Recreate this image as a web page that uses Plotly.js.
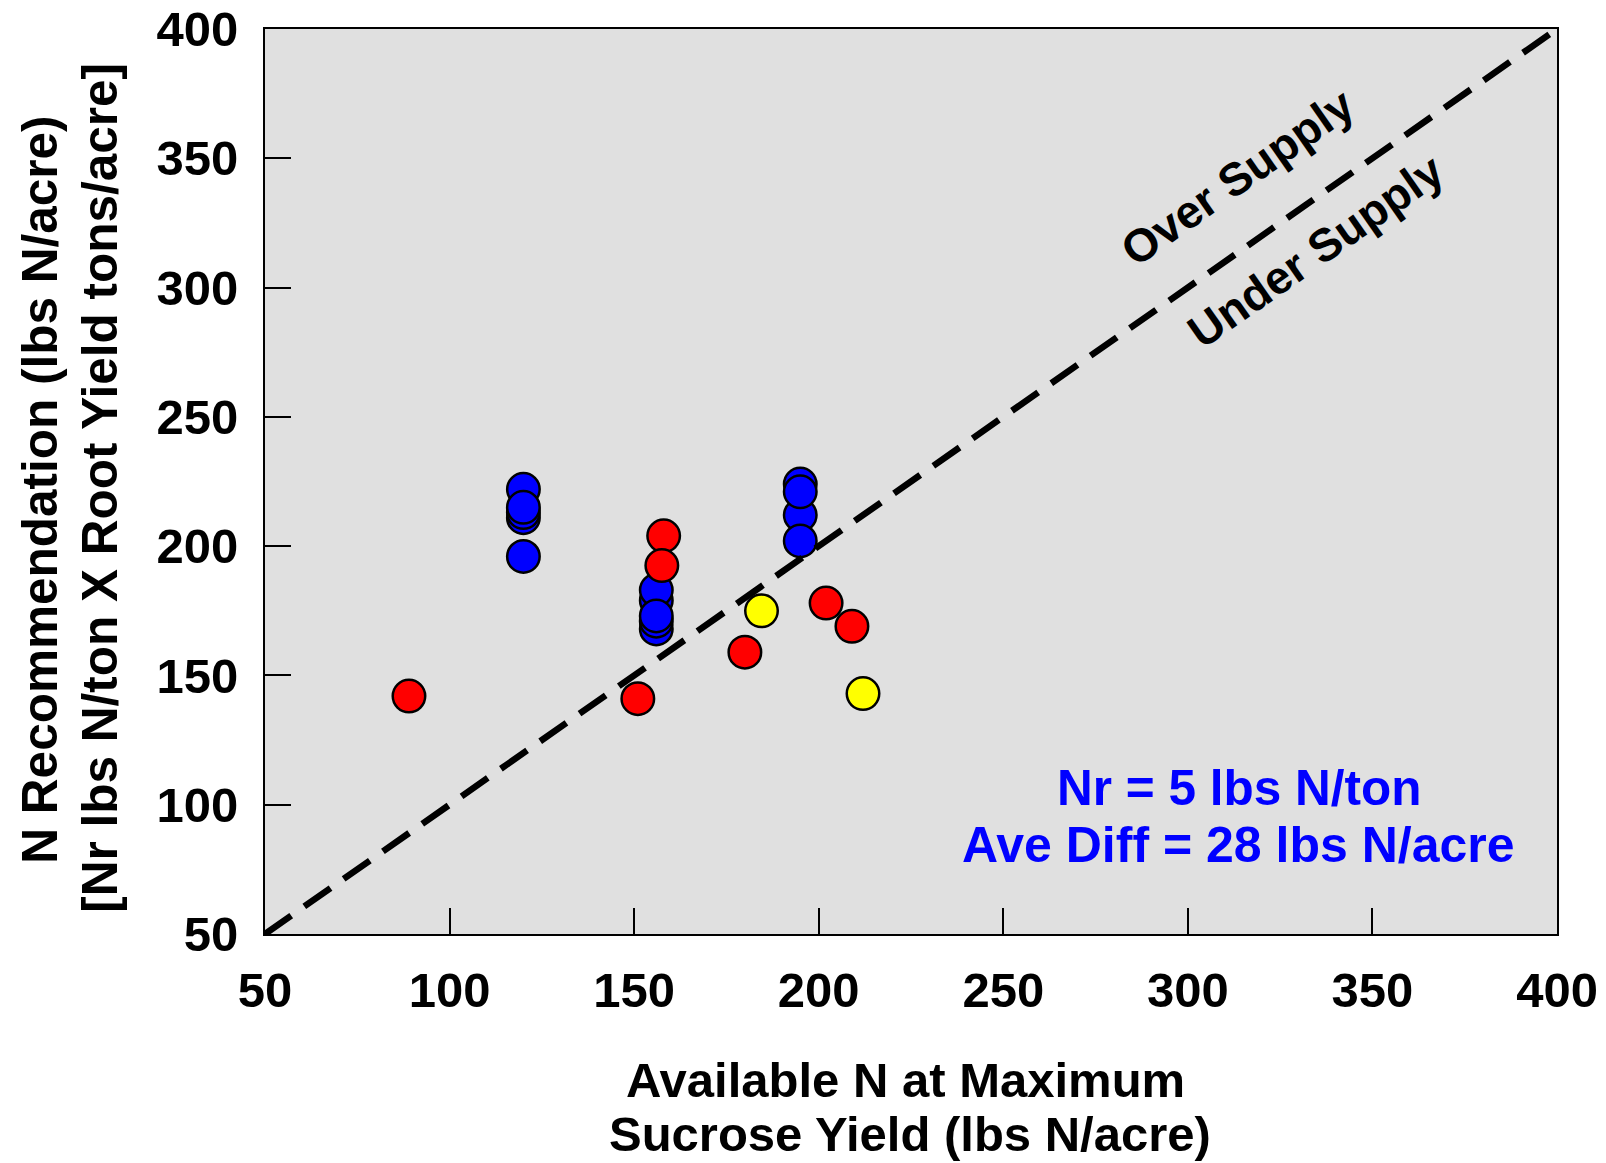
<!DOCTYPE html>
<html>
<head>
<meta charset="utf-8">
<script src="https://cdn.plot.ly/plotly-3.0.1.min.js"></script>
<style>html,body{margin:0;padding:0;background:#fff;}#chart{width:1606px;height:1163px;}</style>
</head>
<body>
<div id="chart"></div>
<script>
// Data
const redX = [89, 151, 158, 157.5, 180, 202, 209];
const redY = [142, 141, 204, 192.5, 159, 178, 169];
const yellowX = [184.5, 212];
const yellowY = [175, 143];
const blueX = [120, 120, 120, 120, 120, 156, 156, 156, 156, 156, 195, 195, 195, 195];
const blueY = [222, 211, 213, 215, 196, 168, 171, 179, 183, 173, 224, 212, 221, 202];
const lineX = [50, 400];
const lineY = [50, 400];
const tickVals = [50, 100, 150, 200, 250, 300, 350, 400];

const FONT = 'Liberation Sans, Arial, Helvetica, sans-serif';
const mk = (c) => ({size: 32.5, color: c, line: {color: '#000', width: 2.5}});

const traces = [
  {x: blueX, y: blueY, type: 'scatter', mode: 'markers', marker: mk('#0000ff'), hoverinfo: 'x+y'},
  {x: redX, y: redY, type: 'scatter', mode: 'markers', marker: mk('#ff0000'), hoverinfo: 'x+y'},
  {x: yellowX, y: yellowY, type: 'scatter', mode: 'markers', marker: mk('#ffff00'), hoverinfo: 'x+y'},
  {x: lineX, y: lineY, type: 'scatter', mode: 'lines', line: {color: '#000', width: 6.5, dash: '32px,16px'}, hoverinfo: 'skip'}
];

const axisBase = {
  range: [50, 400], tickvals: tickVals, ticktext: tickVals.map(String),
  ticks: 'inside', ticklen: 26, tickwidth: 2, tickcolor: '#000',
  showline: true, linecolor: '#000', linewidth: 2, mirror: true,
  showgrid: false, zeroline: false,
  tickfont: {family: FONT, size: 49, color: '#000', weight: 700}
};

const ann = (text, x, y, opts) => Object.assign({
  text: text, x: x, y: y, xref: 'x', yref: 'y', showarrow: false,
  font: {family: FONT, size: 48, color: '#000', weight: 700}
}, opts || {});

const layout = {
  width: 1606, height: 1163,
  margin: {l: 265, r: 49, t: 29, b: 229},
  paper_bgcolor: '#ffffff', plot_bgcolor: '#e0e0e0',
  showlegend: false,
  xaxis: Object.assign({}, axisBase, {ticklabelstandoff: 12}),
  yaxis: Object.assign({}, axisBase, {ticklabelstandoff: 15}),
  annotations: [
    ann('Over Supply', 313.5, 342.7, {textangle: -35, font: {family: FONT, size: 46, color: '#000', weight: 700}}),
    ann('Under Supply', 334.6, 314.2, {textangle: -35, font: {family: FONT, size: 46, color: '#000', weight: 700}}),
    ann('Nr = 5 lbs N/ton', 313.8, 106.8, {font: {family: FONT, size: 49.5, color: '#0000ff', weight: 700}}),
    ann('Ave Diff = 28 lbs N/acre', 313.8, 84.4, {font: {family: FONT, size: 50, color: '#0000ff', weight: 700}}),
    // x-axis title (two lines)
    {text: 'Available N at Maximum', xref: 'paper', yref: 'paper', x: 0.4961, y: 0, yshift: -146, yanchor: 'middle', xanchor: 'center', showarrow: false,
     font: {family: FONT, size: 49, color: '#000', weight: 700}},
    {text: 'Sucrose Yield (lbs N/acre)', xref: 'paper', yref: 'paper', x: 0.4996, y: 0, yshift: -200, yanchor: 'middle', xanchor: 'center', showarrow: false,
     font: {family: FONT, size: 49, color: '#000', weight: 700}},
    // y-axis title (two lines)
    {text: 'N Recommendation (lbs N/acre)', xref: 'paper', yref: 'paper', x: 0, y: 0.491, xshift: -225, xanchor: 'center', yanchor: 'middle', textangle: -90, showarrow: false,
     font: {family: FONT, size: 49.5, color: '#000', weight: 700}},
    {text: '[Nr lbs N/ton X Root Yield tons/acre]', xref: 'paper', yref: 'paper', x: 0, y: 0.493, xshift: -165, xanchor: 'center', yanchor: 'middle', textangle: -90, showarrow: false,
     font: {family: FONT, size: 49.5, color: '#000', weight: 700}}
  ]
};

Plotly.newPlot('chart', traces, layout, {displayModeBar: false, staticPlot: true});
</script>
</body>
</html>
